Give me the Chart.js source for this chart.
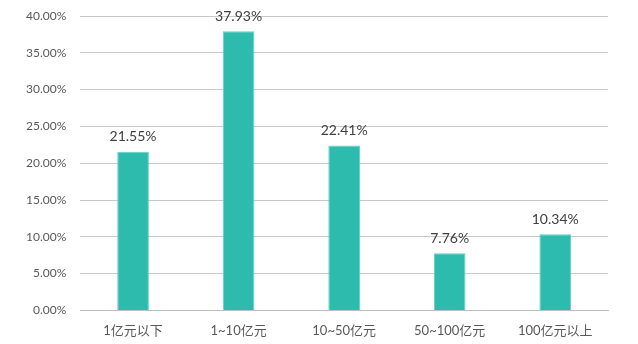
<!DOCTYPE html>
<html>
<head>
<meta charset="utf-8">
<script src="https://cdn.jsdelivr.net/npm/chart.js@4/dist/chart.umd.min.js"></script>
<style>
  html, body { margin: 0; padding: 0; background: #fff; }
  #wrap { width: 638px; height: 344px; }
</style>
</head>
<body>
<div id="wrap"><canvas id="chart" width="638" height="344"></canvas></div>
<script>
// data
const categories = ["1亿元以下", "1~10亿元", "10~50亿元", "50~100亿元", "100亿元以上"];
const shares = [21.55, 37.93, 22.41, 7.76, 10.34];
const yTicks = [0, 5, 10, 15, 20, 25, 30, 35, 40];

const FONT = "Lato, 'Noto Sans CJK SC', sans-serif";

// value labels above each bar
const barLabels = {
    id: "barLabels",
    afterDatasetsDraw(chart) {
        const ctx = chart.ctx;
        const meta = chart.getDatasetMeta(0);
        ctx.save();
        ctx.font = "14px " + FONT;
        ctx.fillStyle = "#404040";
        ctx.textAlign = "center";
        ctx.textBaseline = "bottom";
        meta.data.forEach((bar, i) => {
            ctx.fillText(shares[i].toFixed(2) + "%", bar.x, bar.y - 8);
        });
        ctx.restore();
    }
};

new Chart(document.getElementById("chart"), {
    type: "bar",
    data: {
        labels: categories,
        datasets: [{
            data: shares,
            backgroundColor: "#2dbbad",
            borderColor: "#5fd3c6",
            borderWidth: 1,
            barPercentage: 0.3,
            categoryPercentage: 1
        }]
    },
    options: {
        responsive: false,
        animation: false,
        layout: { padding: { top: 16, right: 30, left: 12, bottom: 0 } },
        plugins: {
            legend: { display: false },
            tooltip: { enabled: false }
        },
        scales: {
            x: {
                grid: { display: false },
                border: { color: "#bfbfbf", width: 1 },
                ticks: { color: "#595959", font: { size: 13, family: FONT }, padding: 5 }
            },
            y: {
                min: 0,
                max: 40,
                afterBuildTicks: axis => { axis.ticks = yTicks.map(v => ({ value: v })); },
                afterFit: axis => { axis.paddingTop = 0; },
                grid: { color: "#c8c8c8", drawTicks: false },
                border: { display: false },
                ticks: {
                    color: "#595959",
                    font: { size: 12, family: FONT },
                    padding: 14,
                    callback: v => v.toFixed(2) + "%"
                }
            }
        }
    },
    plugins: [barLabels]
});
</script>
</body>
</html>
